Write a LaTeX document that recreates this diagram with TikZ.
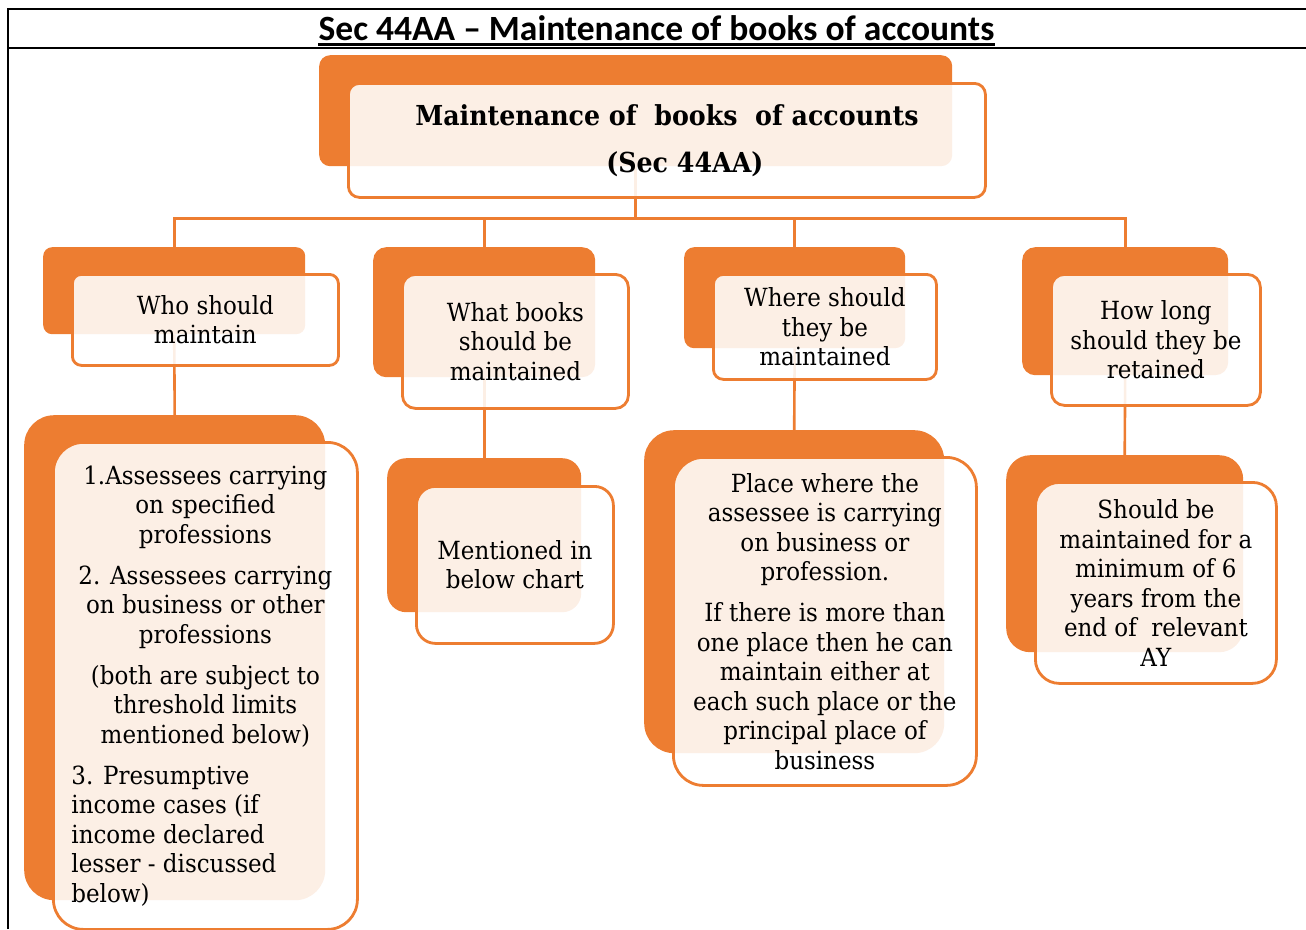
\documentclass[tikz,border=0pt]{standalone}
\usepackage{fontspec}
\setmainfont{DejaVu Serif}[FakeStretch=0.92]
\newfontfamily\titlefont{Carlito}
\usetikzlibrary{backgrounds}
\definecolor{orgC}{HTML}{ED7D31}
\begin{document}
\begin{tikzpicture}[x=1pt,y=-1pt,
  backbox/.style={fill=orgC, draw=none, inner sep=0pt, anchor=north west},
  frontbox/.style={fill=white, fill opacity=0.88, text opacity=1, draw=orgC,
    line width=2.8pt, inner sep=0pt, anchor=north west, align=center,
    font=\fontsize{25pt}{29.5pt}\selectfont},
  conn/.style={draw=orgC, line width=2.6pt},
  rule/.style={draw=black, line width=2.4pt}]
\useasboundingbox (0,0) rectangle (1306,929);

% page frame and heading row
\draw[rule] (8,929) -- (8,9) -- (1306,9);
\draw[rule] (8,48) -- (1306,48);
\node[font=\titlefont\bfseries\fontsize{35.5pt}{40pt}\selectfont, inner sep=0pt, anchor=base]
  (title) at (656.5,40) {Sec 44AA – Maintenance of books of accounts};
\draw[line width=3pt] ([yshift=-4.5pt]title.base west) -- ([yshift=-4.5pt]title.base east);

% root
\node[backbox, minimum width=633pt, minimum height=111pt, rounded corners=11pt] (topb) at (319,55) {};
\node[frontbox, minimum width=637pt, minimum height=114pt, rounded corners=11pt,
  font=\bfseries\fontsize{27.5pt}{47pt}\selectfont] (topf) at (347,82)
  {Maintenance of~ books~ of accounts\\\hspace*{36pt}(Sec 44AA)};

% questions
\node[backbox, minimum width=262pt, minimum height=87pt, rounded corners=9pt] (q1b) at (43,247) {};
\node[frontbox, minimum width=266pt, minimum height=91pt, rounded corners=9pt] (q1f) at (71,273)
  {Who should\\maintain};
\node[backbox, minimum width=222pt, minimum height=130pt, rounded corners=13pt] (q2b) at (373,247) {};
\node[frontbox, minimum width=226pt, minimum height=134pt, rounded corners=13pt] (q2f) at (401,273)
  {What books\\should be\\maintained};
\node[backbox, minimum width=221pt, minimum height=101pt, rounded corners=10pt] (q3b) at (684,247) {};
\node[frontbox, minimum width=223pt, minimum height=105pt, rounded corners=10pt] (q3f) at (712,273)
  {Where should\\they be\\maintained};
\node[backbox, minimum width=206pt, minimum height=128pt, rounded corners=13pt] (q4b) at (1022,247) {};
\node[frontbox, minimum width=209pt, minimum height=131pt, rounded corners=13pt] (q4f) at (1050,273)
  {How long\\should they be\\retained};

% answers
\node[backbox, minimum width=301pt, minimum height=485pt, rounded corners=30pt] (a1b) at (24,415) {};
\node[frontbox, minimum width=304pt, minimum height=487pt, rounded corners=30pt] (a1f) at (52,441)
  {1.Assessees carrying\\on specified\\professions\\[11.5pt]
   2. Assessees carrying\\on business or other\\professions\\[11.5pt]
   (both are subject to\\threshold limits\\mentioned below)\\[11.5pt]
   \makebox[268pt][l]{3. Presumptive}\\\makebox[268pt][l]{income cases (if}\\
   \makebox[268pt][l]{income declared}\\\makebox[268pt][l]{lesser - discussed}\\
   \makebox[268pt][l]{below)}};
\node[backbox, minimum width=194pt, minimum height=154pt, rounded corners=19pt] (a2b) at (387,458) {};
\node[frontbox, minimum width=197pt, minimum height=157pt, rounded corners=19pt] (a2f) at (415,485)
  {Mentioned in\\below chart};
\node[backbox, minimum width=300pt, minimum height=323pt, rounded corners=30pt] (a3b) at (644,430) {};
\node[frontbox, minimum width=303pt, minimum height=328pt, rounded corners=30pt] (a3f) at (672,456)
  {Place where the\\assessee is carrying\\on business or\\profession.\\[11.5pt]
   If there is more than\\one place then he can\\maintain either at\\each such place or the\\
   principal place of\\business};
\node[backbox, minimum width=237pt, minimum height=197pt, rounded corners=24pt] (a4b) at (1006,455) {};
\node[frontbox, minimum width=241pt, minimum height=201pt, rounded corners=24pt] (a4f) at (1034,481)
  {Should be\\maintained for a\\minimum of 6\\years from the\\end of~ relevant\\AY};

% connectors run behind the boxes
\begin{pgfonlayer}{background}
  \foreach \q in {q1b,q2b,q3b,q4b}
    \draw[conn] (topb.south) -- ++(0,52) -| (\q.north);
  \draw[conn] (q1b.south) -- (a1b.north);
  \draw[conn] (q2b.south) -- (a2b.north);
  \draw[conn] (q3b.south) -- (a3b.north);
  \draw[conn] (q4b.south) -- (a4b.north);
\end{pgfonlayer}
\end{tikzpicture}
\end{document}
